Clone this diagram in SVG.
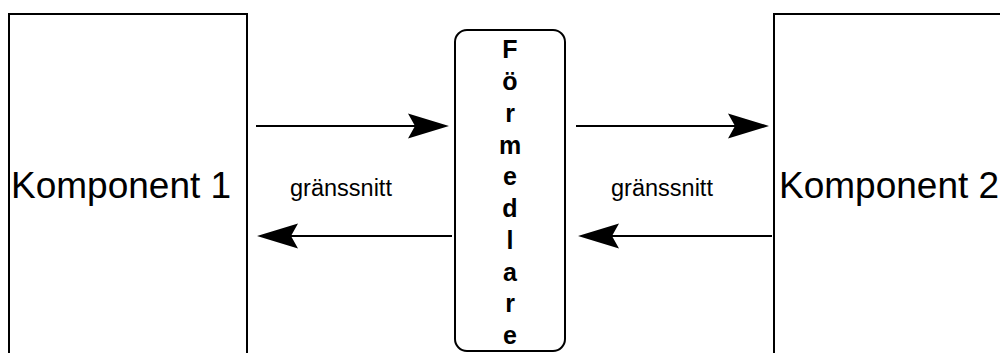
<svg xmlns="http://www.w3.org/2000/svg" width="1000" height="353" viewBox="0 0 1000 353">
  <style>
    .box { fill: #ffffff; stroke: #000000; stroke-width: 2; }
    .big { font-family: "Liberation Sans", Arial, sans-serif; font-size: 37px; fill: #000000; }
    .lbl { font-family: "Liberation Sans", Arial, sans-serif; font-size: 23.5px; fill: #000000; text-anchor: middle; }
    .mid { font-family: "Liberation Sans", Arial, sans-serif; font-size: 25px; font-weight: bold; fill: #000000; text-anchor: middle; }
    .link { fill: none; stroke: #000000; stroke-width: 2; marker-end: url(#head); }
  </style>
  <defs>
    <!-- notched classic arrowhead, tip sits 8px past the line end -->
    <marker id="head" markerUnits="userSpaceOnUse" viewBox="-42 -13 44 26" refX="-8" refY="0" markerWidth="44" markerHeight="26" orient="auto" overflow="visible">
      <path d="M0,0 L-41,-12.5 L-34,0 L-41,12.5 Z" fill="#000000"/>
    </marker>
  </defs>
  <rect width="1000" height="353" fill="#ffffff"/>

  <g id="komponent1">
    <rect class="box" x="9" y="14" width="238" height="360"/>
    <text class="big" x="11" y="198">Komponent 1</text>
  </g>

  <g id="formedlare">
    <rect class="box" x="455" y="30" width="110" height="321" rx="12" ry="12"/>
    <text class="mid" x="510" y="58">F</text>
    <text class="mid" x="510" y="90">ö</text>
    <text class="mid" x="510" y="122">r</text>
    <text class="mid" x="510" y="154">m</text>
    <text class="mid" x="510" y="185">e</text>
    <text class="mid" x="510" y="217">d</text>
    <text class="mid" x="510" y="249">l</text>
    <text class="mid" x="510" y="281">a</text>
    <text class="mid" x="510" y="312">r</text>
    <text class="mid" x="510" y="344">e</text>
  </g>

  <g id="komponent2">
    <rect class="box" x="774" y="14" width="240" height="360"/>
    <text class="big" x="779" y="198">Komponent 2</text>
  </g>

  <g id="labels">
    <text class="lbl" x="341" y="196">gränssnitt</text>
    <text class="lbl" x="662" y="196">gränssnitt</text>
  </g>

  <g id="connectors">
    <line class="link" x1="256" y1="126" x2="441" y2="126"/>
    <line class="link" x1="452" y1="236" x2="265" y2="236"/>
    <line class="link" x1="576" y1="126" x2="761" y2="126"/>
    <line class="link" x1="772" y1="236" x2="586" y2="236"/>
  </g>
</svg>
